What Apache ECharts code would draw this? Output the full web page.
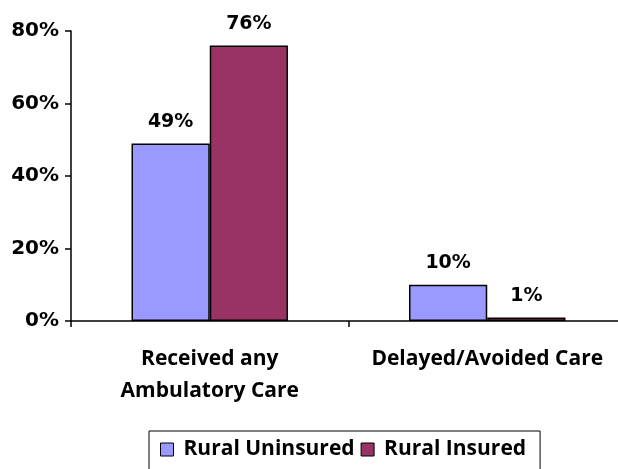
<!DOCTYPE html>
<html><head><meta charset="utf-8">
<script src="https://cdn.jsdelivr.net/npm/echarts@6/dist/echarts.min.js"></script>
<style>html,body{margin:0;padding:0;background:#fff;overflow:hidden;width:618px;height:469px;}#c{width:626px;height:469px;}</style>
</head><body><div id="c"></div>
<script>
var categories = ['Received any\nAmbulatory Care', 'Delayed/Avoided Care'];
var uninsured = [49, 10];
var insured = [76, 1];
var yTicks = [0, 20, 40, 60, 80];
var seriesNames = ['Rural Uninsured', 'Rural Insured'];

var chart = echarts.init(document.getElementById('c'));
var lbl = {show:true, position:'top', formatter:'{c}%', color:'#000', fontFamily:'DejaVu Sans', fontWeight:'bold', fontSize:19, distance:12};
chart.setOption({
  animation:false,
  grid:{left:71, right:0, top:31, bottom:148},
  legend:{top:431, left:149, itemWidth:13, itemHeight:13, itemGap:6, icon:'rect',
    borderColor:'#000', borderWidth:1, padding:[8,14,30,11],
    textStyle:{fontFamily:'Open Sans', fontWeight:'bold', fontSize:21, color:'#000', padding:[0,0,0,5]},
    data:[{name:seriesNames[0], itemStyle:{borderColor:'#000',borderWidth:1}},{name:seriesNames[1], itemStyle:{borderColor:'#000',borderWidth:1}}]},
  xAxis:{type:'category', data:categories,
    axisLine:{lineStyle:{color:'#000', width:1.5}},
    axisTick:{show:true, length:6, lineStyle:{color:'#000', width:1.5}},
    axisLabel:{color:'#000', fontFamily:'Open Sans', fontWeight:'bold', fontSize:21, lineHeight:32, margin:22, interval:0}},
  yAxis:{type:'value', min:yTicks[0], max:yTicks[yTicks.length-1], interval:20,
    axisLine:{show:true, lineStyle:{color:'#000', width:1.5}},
    axisTick:{show:true, inside:false, length:6, lineStyle:{color:'#000', width:1.5}},
    splitLine:{show:false},
    axisLabel:{formatter:'{value}%', color:'#000', fontFamily:'DejaVu Sans', fontWeight:'bold', fontSize:20, margin:12}},
  series:[
    {name:seriesNames[0], type:'bar', data:uninsured, barWidth:'28.2%', barGap:'0%',
      itemStyle:{color:'#9999FF', borderColor:'#000', borderWidth:1.5}, label:lbl},
    {name:seriesNames[1], type:'bar', data:insured, barWidth:'28.2%', barGap:'0%',
      itemStyle:{color:'#993366', borderColor:'#000', borderWidth:1.5}, label:lbl}
  ]
});
</script></body></html>
